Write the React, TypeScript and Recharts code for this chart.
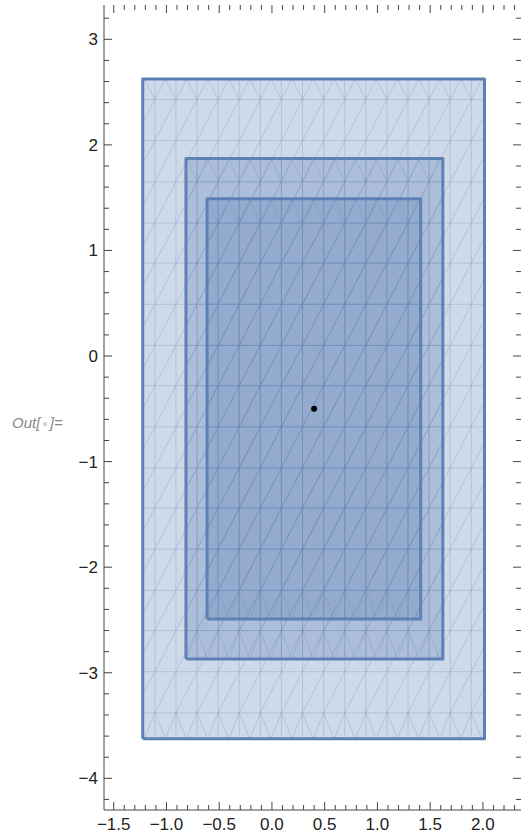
import React from 'react';
import { ComposedChart, Line, Scatter, XAxis, YAxis, ReferenceArea } from 'recharts';

const xDomain = [-1.592, 2.361];
const yDomain = [-4.3, 3.325];

const xTicks = [
  -1.5, -1.4, -1.3, -1.2, -1.1, -1, -0.9, -0.8, -0.7, -0.6, -0.5, -0.4, -0.3, -0.2, -0.1, 0,
  0.1, 0.2, 0.3, 0.4, 0.5, 0.6, 0.7, 0.8, 0.9, 1, 1.1, 1.2, 1.3, 1.4, 1.5, 1.6, 1.7, 1.8, 1.9,
  2, 2.1, 2.2, 2.3,
];
const yTicks = [
  -4.2, -4, -3.8, -3.6, -3.4, -3.2, -3, -2.8, -2.6, -2.4, -2.2, -2, -1.8, -1.6, -1.4, -1.2, -1,
  -0.8, -0.6, -0.4, -0.2, 0, 0.2, 0.4, 0.6, 0.8, 1, 1.2, 1.4, 1.6, 1.8, 2, 2.2, 2.4, 2.6, 2.8,
  3, 3.2,
];

// the three nested regions (outer, middle, inner)
const regionX1 = [-1.225, -0.815, -0.615];
const regionX2 = [2.015, 1.62, 1.41];
const regionY1 = [-3.625, -2.87, -2.49];
const regionY2 = [2.625, 1.87, 1.49];

// mesh grid lines shared by the regions
const meshXs = [-1.11, -0.91, -0.71, -0.51, -0.31, -0.11, 0.09, 0.29, 0.49, 0.69, 0.89, 1.09, 1.29, 1.49, 1.69, 1.89];
const meshYs = [2.43, 2.04, 1.65, 1.26, 0.88, 0.49, 0.1, -0.28, -0.67, -1.06, -1.44, -1.83, -2.22, -2.6, -2.99, -3.38];

const centerPoint = [{ x: 0.4, y: -0.5 }];

const BLUE = '#5E81B5';
const AXIS = '#444';
const FONT = 'Liberation Sans, Arial, sans-serif';

type Pt = { x: number; y: number | null };

function buildMesh(i: number): Pt[] {
  const x1 = regionX1[i], x2 = regionX2[i], y1 = regionY1[i], y2 = regionY2[i];
  const pts: Pt[] = [];
  const seg = (ax: number, ay: number, bx: number, by: number) => {
    pts.push({ x: ax, y: ay }, { x: bx, y: by }, { x: bx, y: null });
  };
  const xs = meshXs.filter((v) => v > x1 && v < x2);
  const ys = meshYs.filter((v) => v > y1 && v < y2);
  const top = ys[0];
  const bot = ys[ys.length - 1];
  const slope = (meshYs[0] - meshYs[meshYs.length - 1]) / (meshYs.length - 1) / 0.2;

  xs.forEach((x) => seg(x, y1, x, y2));
  ys.forEach((y) => seg(x1, y, x2, y));

  for (let j = 0; j < ys.length - 1; j++) {
    for (let k = 0; k < xs.length - 1; k++) seg(xs[k], ys[j + 1], xs[k + 1], ys[j]);
    // partial column at the left edge
    seg(x1, ys[j] - slope * (xs[0] - x1), xs[0], ys[j]);
    // partial column at the right edge
    const last = xs[xs.length - 1];
    seg(last, ys[j + 1], x2, ys[j + 1] + slope * (x2 - last));
  }

  // zigzag rows along the top and bottom edges
  xs.forEach((x) => {
    seg(x, top, Math.max(x1, x - 0.1), y2);
    seg(x, top, Math.min(x2, x + 0.1), y2);
    seg(x, bot, Math.max(x1, x - 0.1), y1);
    seg(x, bot, Math.min(x2, x + 0.1), y1);
  });
  return pts;
}

function buildEdge(i: number): Pt[] {
  const x1 = regionX1[i], x2 = regionX2[i], y1 = regionY1[i], y2 = regionY2[i];
  return [
    { x: x1, y: y1 },
    { x: x1, y: y2 },
    { x: x2, y: y2 },
    { x: x2, y: y1 },
    { x: x1, y: y1 },
  ];
}

const fmt = (v: number, digits: number) => {
  const s = Math.abs(v).toFixed(digits);
  return v < -1e-9 ? '\u2212' + s : s;
};

function makeTick(side: 'bottom' | 'top' | 'left' | 'right') {
  return (props: any) => {
    const { x, y, payload } = props;
    const v: number = payload.value;
    const vertical = side === 'left' || side === 'right';
    const major = vertical
      ? Math.abs(v - Math.round(v)) < 1e-6
      : Math.abs(v * 2 - Math.round(v * 2)) < 1e-6;
    const len = major ? 8 : 5;
    let line;
    if (side === 'bottom') line = <line x1={x} y1={y} x2={x} y2={y - len} stroke={AXIS} />;
    else if (side === 'top') line = <line x1={x} y1={y} x2={x} y2={y + len} stroke={AXIS} />;
    else if (side === 'left') line = <line x1={x} y1={y} x2={x + len} y2={y} stroke={AXIS} />;
    else line = <line x1={x} y1={y} x2={x - len} y2={y} stroke={AXIS} />;
    let label = null;
    if (major && side === 'bottom') {
      label = (
        <text x={x} y={y + 20} textAnchor="middle" fontSize={17} fontFamily={FONT} fill="#222">
          {fmt(v, 1)}
        </text>
      );
    }
    if (major && side === 'left') {
      label = (
        <text x={x - 6} y={y + 6} textAnchor="end" fontSize={17} fontFamily={FONT} fill="#222">
          {fmt(v, 0)}
        </text>
      );
    }
    return (
      <g>
        {line}
        {label}
      </g>
    );
  };
}

export default function App() {
  const idx = [0, 1, 2];
  return (
    <div style={{ position: 'absolute', left: 0, top: 0, width: 522, height: 836, background: '#fff' }}>
      <div
        style={{
          position: 'absolute',
          left: 12,
          top: 414,
          fontFamily: FONT,
          fontStyle: 'italic',
          fontSize: 15,
          color: '#8a8a8a',
          whiteSpace: 'nowrap',
        }}
      >
        Out[<span style={{ color: '#cfcfcf', fontSize: 9, verticalAlign: 'middle', padding: '0 2px' }}>●</span>]=
      </div>
      <ComposedChart width={522} height={836} margin={{ top: 0, right: 0, bottom: 0, left: 0 }}>
        <XAxis
          dataKey="x"
          type="number"
          domain={xDomain}
          allowDataOverflow
          ticks={xTicks}
          interval={0}
          height={26}
          tickSize={0}
          tickMargin={0}
          tickLine={false}
          axisLine={{ stroke: AXIS }}
          tick={makeTick('bottom')}
        />
        <XAxis
          xAxisId="top"
          orientation="top"
          dataKey="x"
          type="number"
          domain={xDomain}
          allowDataOverflow
          ticks={xTicks}
          interval={0}
          height={5}
          tickSize={0}
          tickMargin={0}
          tickLine={false}
          axisLine={false}
          tick={makeTick('top')}
        />
        <YAxis
          type="number"
          domain={yDomain}
          allowDataOverflow
          ticks={yTicks}
          interval={0}
          width={104}
          tickSize={0}
          tickMargin={0}
          tickLine={false}
          axisLine={{ stroke: AXIS }}
          tick={makeTick('left')}
        />
        <YAxis
          yAxisId="right"
          orientation="right"
          type="number"
          domain={yDomain}
          allowDataOverflow
          ticks={yTicks}
          interval={0}
          width={1}
          tickSize={0}
          tickMargin={0}
          tickLine={false}
          axisLine={false}
          tick={makeTick('right')}
        />
        {idx.map((i) => (
          <ReferenceArea
            key={'fill' + i}
            x1={regionX1[i]}
            x2={regionX2[i]}
            y1={regionY1[i]}
            y2={regionY2[i]}
            fill={BLUE}
            fillOpacity={0.3}
            stroke="none"
          />
        ))}
        {idx.map((i) => (
          <Line
            key={'mesh' + i}
            data={buildMesh(i)}
            dataKey="y"
            stroke={BLUE}
            strokeOpacity={0.32}
            strokeWidth={0.8}
            dot={false}
            activeDot={false}
            connectNulls={false}
            isAnimationActive={false}
          />
        ))}
        {idx.map((i) => (
          <Line
            key={'edge' + i}
            data={buildEdge(i)}
            dataKey="y"
            stroke={BLUE}
            strokeWidth={3}
            strokeLinejoin="round"
            dot={false}
            activeDot={false}
            isAnimationActive={false}
          />
        ))}
        <Scatter
          data={centerPoint}
          dataKey="y"
          fill="#000"
          isAnimationActive={false}
          shape={(p: any) => <circle cx={p.cx} cy={p.cy} r={3} fill="#000" />}
        />
      </ComposedChart>
    </div>
  );
}
